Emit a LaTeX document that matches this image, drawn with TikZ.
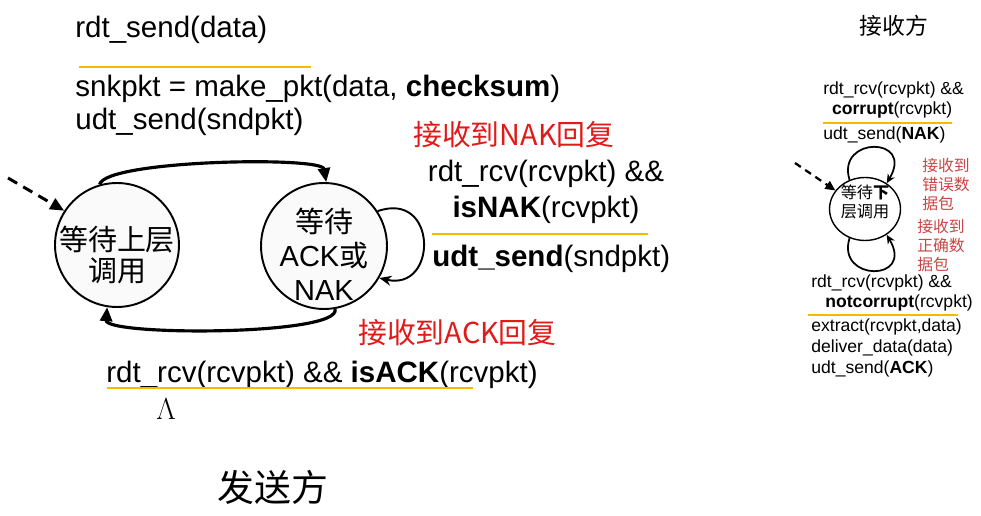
\documentclass[tikz,border=0pt]{standalone}
\usepackage{fontspec}
\setmainfont{Liberation Sans}
\newfontfamily\cjk{Noto Sans CJK SC}
\usepackage{tikz}
\usetikzlibrary{arrows.meta,shapes.geometric}
\definecolor{guardline}{RGB}{245,185,0}
\definecolor{evred}{RGB}{225,25,25}
\definecolor{rxred}{RGB}{200,70,70}

\begin{document}
\begin{tikzpicture}[x=0.02cm, y=-0.02cm,
        state/.style = {circle, draw, line width=1.1pt, fill=gray!4, inner sep=0pt},
        rxstate/.style = {ellipse, draw, line width=0.8pt, minimum width=1.42cm, minimum height=1.26cm, inner sep=0pt},
        trans/.style = {-{Triangle[length=2.8mm, width=2.4mm]}, line width=1.8pt},
        selfloop/.style = {-{Stealth[length=2.4mm, width=2mm]}, line width=1.1pt},
        init/.style = {-{Triangle[length=2.8mm, width=2.4mm]}, line width=1.7pt, dash pattern=on 6pt off 4pt},
        rxloop/.style = {-{Stealth[length=1.8mm, width=1.6mm]}, line width=1pt},
        guard/.style = {draw=guardline, line width=1.7pt},
        sfont/.style = {font=\fontsize{16.8}{19}\selectfont, inner sep=0pt},
        rfont/.style = {font=\fontsize{10}{11.4}\selectfont, inner sep=0pt},
        evlbl/.style = {font=\fontsize{16.4}{19}\selectfont\cjk, text=evred, inner sep=0pt},
        note/.style = {font=\fontsize{9}{10.8}\selectfont\cjk, text=rxred, align=left, inner sep=0pt}
    ]
        \useasboundingbox (0,0) rectangle (981,516);

        % sender
        \node[state, minimum size=2.48cm,
              label={[font=\fontsize{16.5}{17.2}\selectfont\cjk, align=center, yshift=-0.2cm]center:等待上层\\调用}] (wu) at (117,245) {};
        \node[state, minimum size=2.52cm,
              label={[font=\fontsize{16.5}{19.4}\selectfont, align=center, yshift=-0.16cm]center:{\cjk 等待}\\ACK{\cjk 或}\\NAK}] (wa) at (324,246) {};
        \coordinate (s0) at (8,178);
        \draw[init] (s0) -- (wu.147);
        \draw[trans] (wu.106) .. controls (105,160) and (322,156) .. (wa.88);
        \draw[trans] (wa.-80) .. controls (342,336) and (105,336) .. (wu.-99);
        \draw[selfloop] (wa.33) .. controls (438,190) and (438,292) .. (wa.-30);

        \node[sfont, anchor=base west] (sev) at (75,38) {rdt\_send(data)};
        \draw[guard] (79,67) -- (311,67);
        \node[sfont, anchor=base west, align=left] (sact) at (75,130) {snkpkt = make\_pkt(data, \textbf{checksum})\\udt\_send(sndpkt)};

        \node[evlbl, anchor=west] (naklbl) at (413,135) {接收到NAK回复};
        \node[sfont, font=\fontsize{16.8}{20.5}\selectfont, align=center, anchor=base] (nakg) at (546,218) {rdt\_rcv(rcvpkt) \&\&\\\textbf{isNAK}(rcvpkt)};
        \draw[guard] (432,234) -- (648,234);
        \node[sfont, anchor=base west] (naka) at (432,267) {\textbf{udt\_send}(sndpkt)};

        \node[evlbl, anchor=west] (acklbl) at (358,333) {接收到ACK回复};
        \node[sfont, anchor=base west] (ackg) at (106,383) {rdt\_rcv(rcvpkt) \&\& \textbf{isACK}(rcvpkt)};
        \draw[guard] (107,388) -- (473,388);
        \node[anchor=base, font=\fontsize{17}{20}\selectfont] (lam) at (166,420) {$\Lambda$};
        \node[font=\fontsize{21}{24}\selectfont\cjk] (sttl) at (273,487) {发送方};

        % receiver
        \node[font=\fontsize{13}{15}\selectfont\cjk] (rttl) at (894,26) {接收方};
        \node[rxstate, label={[font=\fontsize{9.2}{10.8}\selectfont\cjk, align=center, yshift=0.15cm]center:等待\textbf{下}\\层调用}] (rx) at (865,209) {};
        \coordinate (r0) at (795,163);
        \draw[init, line width=1.3pt, dash pattern=on 4pt off 3pt, -{Triangle[length=2mm, width=1.8mm]}] (r0) -- (rx.148);
        \draw[rxloop] (rx.118) .. controls (836,136) and (915,136) .. (rx.50);
        \draw[rxloop] (rx.-118) .. controls (836,282) and (915,282) .. (rx.-50);

        \node[rfont, anchor=base west, align=left] (rbadg) at (823,115) {rdt\_rcv(rcvpkt) \&\&\\\hspace*{5pt}\textbf{corrupt}(rcvpkt)};
        \draw[guard, line width=1.2pt] (823,123) -- (952,123);
        \node[rfont, anchor=base west] (rbada) at (823,140) {udt\_send(\textbf{NAK})};
        \node[note, anchor=north west] (badnote) at (922,158) {接收到\\错误数\\据包};
        \node[note, anchor=north west] (goodnote) at (917,219) {接收到\\正确数\\据包};

        \node[rfont, anchor=base west, align=left] (rgoodg) at (811,308) {rdt\_rcv(rcvpkt) \&\&\\\hspace*{8pt}\textbf{notcorrupt}(rcvpkt)};
        \draw[guard, line width=1.2pt] (808,315) -- (958,315);
        \node[rfont, font=\fontsize{10}{12}\selectfont, anchor=base west, align=left] (rgooda) at (811,374) {extract(rcvpkt,data)\\deliver\_data(data)\\udt\_send(\textbf{ACK})};
    \end{tikzpicture}
\end{document}
